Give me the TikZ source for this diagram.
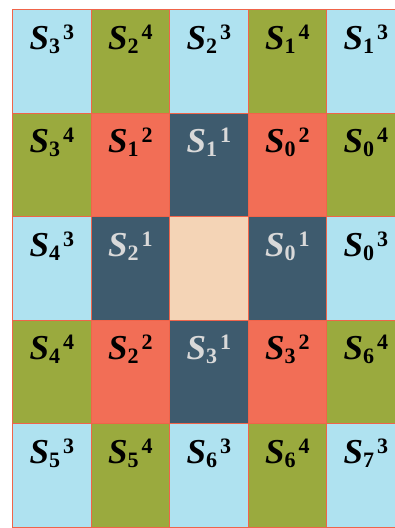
\documentclass[tikz,border=0pt]{standalone}
\usepackage{fontspec}
\setmainfont{Liberation Serif}
\usepackage{tikz}
\usetikzlibrary{positioning}
\definecolor{cellblue}{HTML}{AFE2F0}
\definecolor{cellgreen}{HTML}{9AAA3E}
\definecolor{cellred}{HTML}{F26E56}
\definecolor{celldark}{HTML}{3E5B6E}
\definecolor{cellcore}{HTML}{F4D4B6}
\definecolor{cellline}{HTML}{F0644A}
\newcommand{\slab}[2]{S\rlap{\raisebox{-4pt}{\upshape\fontsize{22}{22}\selectfont #1}}\hspace{14pt}\raisebox{10pt}{\upshape\fontsize{22}{22}\selectfont #2}}

\begin{document}
\begin{tikzpicture}[x=1pt, y=-1pt,
  cell/.style={draw=cellline, line width=1.2pt, anchor=north west, inner sep=0pt, minimum width=78.5pt, minimum height=103.5pt},
  lab/.style={font=\fontsize{35}{35}\selectfont\bfseries\itshape, inner sep=0pt}]
\clip (0,0) rectangle (395,528);
\fill[white] (0,0) rectangle (395,528);
% ring of cells: column/row/fill/text colour/sub/sup
\foreach \c/\r/\fc/\tc/\sb/\sp in {
  1/1/cellblue/black/3/3, 2/1/cellgreen/black/2/4, 3/1/cellblue/black/2/3, 4/1/cellgreen/black/1/4, 5/1/cellblue/black/1/3,
  1/2/cellgreen/black/3/4, 2/2/cellred/black/1/2, 3/2/celldark/white/1/1, 4/2/cellred/black/0/2, 5/2/cellgreen/black/0/4,
  1/3/cellblue/black/4/3, 2/3/celldark/white/2/1, 4/3/celldark/white/0/1, 5/3/cellblue/black/0/3,
  1/4/cellgreen/black/4/4, 2/4/cellred/black/2/2, 3/4/celldark/white/3/1, 4/4/cellred/black/3/2, 5/4/cellgreen/black/6/4,
  1/5/cellblue/black/5/3, 2/5/cellgreen/black/5/4, 3/5/cellblue/black/6/3, 4/5/cellgreen/black/6/4, 5/5/cellblue/black/7/3}{
  \node[cell, fill=\fc] (c\c\r) at ({12+78.5*(\c-1)}, {9+103.5*(\r-1)}) {};
  \node[lab, text=\tc!85!black, below=30pt of c\c\r.north, anchor=center] (l\c\r) {\slab{\sb}{\sp}};
}
\node[cell, fill=cellcore] (c33) at (169, 216) {};
\end{tikzpicture}
\end{document}
